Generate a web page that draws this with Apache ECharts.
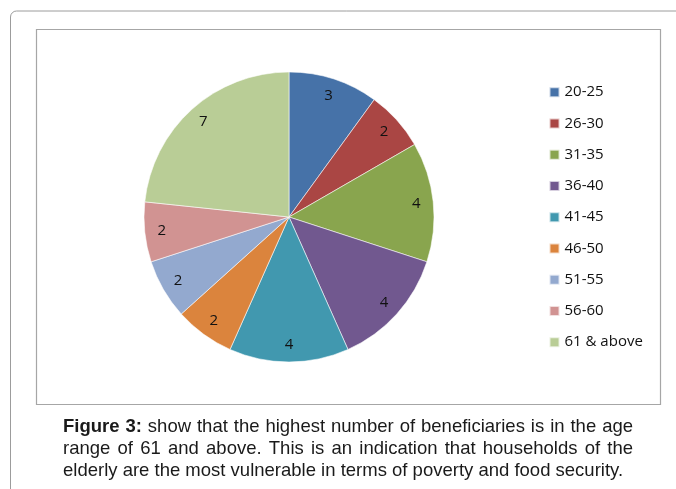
<!DOCTYPE html>
<html>
<head>
<meta charset="utf-8">
<title>Beneficiaries by age range</title>
<script src="https://cdn.jsdelivr.net/npm/echarts@6/dist/echarts.min.js"></script>
<style>
  html, body { margin: 0; padding: 0; background: #ffffff; }
  #chart { width: 676px; height: 489px; }
</style>
</head>
<body>
<div id="chart"></div>
<script>
// Age ranges and number of beneficiaries in each
const categories = ['20-25', '26-30', '31-35', '36-40', '41-45', '46-50', '51-55', '56-60', '61 & above'];
const beneficiaries = [3, 2, 4, 4, 4, 2, 2, 2, 7];
const sliceColors = ['#4672A8', '#AA4644', '#89A54E', '#71588F', '#4198AF', '#DB843D', '#93A9CF', '#D19392', '#B9CD96'];

// Caption below the chart
const captionLead = 'Figure 3:';
const captionLines = [
  'show that the highest number of beneficiaries is in the age',
  'range of 61 and above. This is an indication that households of the',
  'elderly are the most vulnerable in terms of poverty and food security.'
];

const labelFont = 'Open Sans';
const captionFamily = 'Liberation Sans';
const captionSize = 18.5;
const captionLeft = 63;
const captionWidth = 570;
const captionTop = 427;
const captionLineGap = 22;

// Measure words so justified lines fill the caption width
const measureCtx = document.createElement('canvas').getContext('2d');
function measure(text, bold) {
  measureCtx.font = (bold ? 'bold ' : '') + captionSize + 'px "' + captionFamily + '"';
  return measureCtx.measureText(text).width;
}
function buildLine(words, boldCount) {
  const gaps = words.length - 1;
  return words.map((w, i) => (i < boldCount ? '{b|' + w + '}' : w) + (i < gaps ? '{s| }' : '')).join('');
}
function spaceWidth(words, boldCount, justify) {
  let total = 0;
  words.forEach((w, i) => { total += measure(w, i < boldCount); });
  return justify ? (captionWidth - total) / (words.length - 1) : measure(' ', false);
}

const captionGraphics = captionLines.map((line, idx) => {
  const leadWords = idx === 0 ? captionLead.split(' ') : [];
  const words = leadWords.concat(line.split(' '));
  const justify = idx < captionLines.length - 1;
  const sw = spaceWidth(words, leadWords.length, justify);
  return {
    type: 'text',
    x: captionLeft,
    y: captionTop + idx * captionLineGap,
    silent: true,
    style: {
      text: buildLine(words, leadWords.length),
      fill: '#1a1a1a',
      fontFamily: captionFamily,
      fontSize: captionSize,
      verticalAlign: 'middle',
      align: 'left',
      rich: {
        b: { fontWeight: 'bold', fontFamily: captionFamily, fontSize: captionSize, fill: '#1a1a1a' },
        s: { width: sw, fontFamily: captionFamily, fontSize: captionSize }
      }
    }
  };
});

const chart = echarts.init(document.getElementById('chart'), null, { renderer: 'canvas' });

chart.setOption({
  animation: false,
  backgroundColor: '#ffffff',
  color: sliceColors,
  legend: {
    orient: 'vertical',
    left: 543.5,
    top: 79.2,
    itemWidth: 10,
    itemHeight: 10,
    itemGap: 15.25,
    icon: 'rect',
    selectedMode: false,
    data: categories,
    textStyle: { fontFamily: labelFont, fontSize: 15, color: '#111', lineHeight: 16 }
  },
  graphic: [
    {
      type: 'rect',
      silent: true,
      z: -10,
      shape: { x: 10.5, y: 11, width: 700, height: 520, r: 6 },
      style: { fill: 'none', stroke: '#9c9c9c', lineWidth: 1 }
    },
    {
      type: 'rect',
      silent: true,
      z: -10,
      shape: { x: 36.5, y: 29.5, width: 624, height: 375 },
      style: { fill: 'none', stroke: '#a6a6a6', lineWidth: 1.2 }
    }
  ].concat(captionGraphics),
  series: [
    {
      name: 'Beneficiaries',
      type: 'pie',
      center: [289, 217],
      radius: [0, 145],
      startAngle: 90,
      clockwise: true,
      label: { show: false },
      labelLine: { show: false },
      emphasis: { disabled: true },
      itemStyle: { borderColor: 'rgba(255,255,255,0.7)', borderWidth: 0.8 },
      data: categories.map((c, i) => ({ name: c, value: beneficiaries[i] }))
    },
    {
      // value labels placed near the rim of each slice
      name: 'Labels',
      type: 'pie',
      center: [289, 217],
      radius: [105, 145],
      startAngle: 90,
      clockwise: true,
      silent: true,
      legendHoverLink: false,
      avoidLabelOverlap: false,
      emphasis: { disabled: true },
      itemStyle: { color: 'rgba(0,0,0,0)', borderWidth: 0 },
      labelLine: { show: false },
      label: {
        show: true,
        position: 'inside',
        formatter: '{c}',
        fontFamily: labelFont,
        fontSize: 15,
        color: '#111'
      },
      data: categories.map((c, i) => ({ name: c, value: beneficiaries[i] }))
    }
  ]
});
</script>
</body>
</html>
